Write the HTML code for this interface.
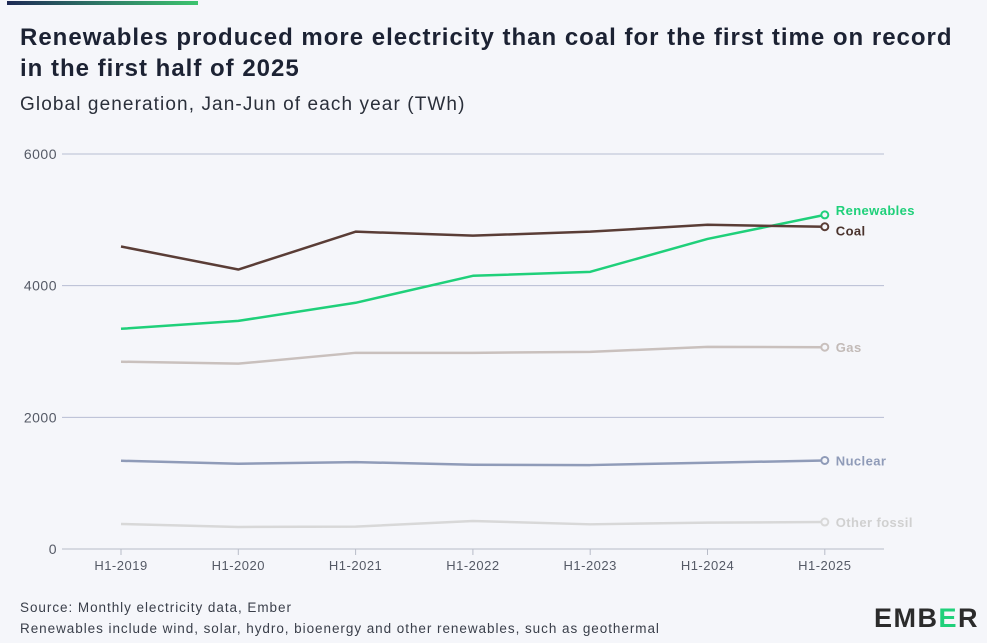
<!DOCTYPE html>
<html><head><meta charset="utf-8"><style>
body{margin:0;background:#f5f6fa;font-family:"Liberation Sans",sans-serif;}
#wrap{position:relative;width:987px;height:643px;overflow:hidden;background:#f5f6fa;}
.t{position:absolute;margin:0;white-space:nowrap;}
</style></head><body>
<div id="wrap">
<div class="t" style="left:7px;top:1px;width:191px;height:4px;background:linear-gradient(90deg,#1e2a55,#2e7a66,#3cc46e);"></div>
<h1 class="t" style="left:20px;top:22px;font-size:24px;line-height:31px;font-weight:bold;color:#1c2233;letter-spacing:1px;">Renewables produced more electricity than coal for the first time on record<br>in the first half of 2025</h1>
<div class="t" style="left:20px;top:94px;font-size:19px;color:#2a2f3a;letter-spacing:1.1px;">Global generation, Jan-Jun of each year (TWh)</div>
<svg id="chart" width="987" height="643" style="position:absolute;left:0;top:0;"></svg>
<div class="t" style="left:20px;top:597px;font-size:13.5px;color:#3a3f4a;line-height:21px;letter-spacing:0.95px;">Source: Monthly electricity data, Ember<br>Renewables include wind, solar, hydro, bioenergy and other renewables, such as geothermal</div>
<div class="t" style="left:874px;top:603px;font-size:27px;font-weight:bold;color:#2b2b2b;letter-spacing:1.5px;">EMB<span style="color:#1fd07a">E</span>R</div>
</div>
<script>
const categories=["H1-2019","H1-2020","H1-2021","H1-2022","H1-2023","H1-2024","H1-2025"];
const yTicks=[0,2000,4000,6000];
const seriesNames=["Other fossil","Nuclear","Gas","Renewables","Coal"];
const otherFossil=[380,335,340,425,375,400,410];
const nuclear=[1340,1295,1320,1280,1275,1310,1345];
const gas=[2845,2815,2980,2980,2995,3070,3065];
const renewables=[3345,3465,3740,4150,4210,4710,5075];
const coal=[4595,4245,4820,4760,4820,4925,4895];
const colors=["#d8d8d8","#8f9bb8","#c9c0bd","#1fd07a","#5a3d36"];
const labelColors=["#d0d0d0","#8f9bb8","#c2bab7","#1fd07a","#4a332d"];
const allSeries=[otherFossil,nuclear,gas,renewables,coal];
const NS="http://www.w3.org/2000/svg";
const svg=document.getElementById('chart');
const x=i=>121+i*117.3;
const y=v=>549-v*(395/6000);
function mk(t,a){const e=document.createElementNS(NS,t);for(const k in a)e.setAttribute(k,a[k]);svg.appendChild(e);return e;}
yTicks.forEach(v=>{
 const l=mk('line',{x1:62,x2:884,y1:y(v),y2:y(v),stroke:v===0?'#b8bcc8':'#b7bdd3','stroke-width':1});
 
 
 const t=mk('text',{x:57,y:y(v)+5,'text-anchor':'end','font-size':14,fill:'#555a66','font-family':'Liberation Sans','letter-spacing':0.5});
 t.textContent=v;
 
 
});
categories.forEach((c,i)=>{
 const tk=mk('line',{x1:x(i),x2:x(i),y1:549,y2:555,stroke:'#b8bcc8'});
 
 
 const t=mk('text',{x:x(i),y:570,'text-anchor':'middle','font-size':13,fill:'#555a66','font-family':'Liberation Sans','letter-spacing':0.5});
 t.textContent=c;
 
 
});
const labelDy=[5,5,5,0,9];
allSeries.forEach((s,k)=>{
 const p=mk('polyline',{points:s.map((v,i)=>x(i)+','+y(v)).join(' '),fill:'none',stroke:colors[k],'stroke-width':2.5,'stroke-linejoin':'round'});
 
 
 const last=s.length-1;
 const c=mk('circle',{cx:x(last),cy:y(s[last]),r:3.5,fill:'#f5f6fa',stroke:colors[k],'stroke-width':2});
 
 
 const t=mk('text',{x:x(last)+11,y:y(s[last])+labelDy[k],'font-size':13,'font-weight':'bold',fill:labelColors[k],'font-family':'Liberation Sans','letter-spacing':0.4});
 t.textContent=seriesNames[k];
 
 
});
</script>
</body></html>
